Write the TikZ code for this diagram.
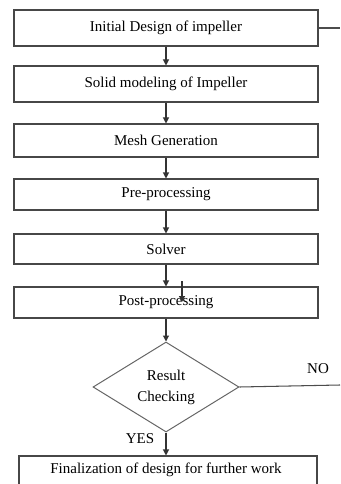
\documentclass[tikz,border=0pt]{standalone}
\usepackage{fontspec}
\setmainfont{Liberation Serif}
\usetikzlibrary{arrows.meta,shapes.geometric}
\begin{document}
\begin{tikzpicture}[x=1pt,y=-1pt,
  line width=1.05pt,
  ln/.style={draw=black!70},
  box/.style={draw=black!72,rectangle,minimum width=304pt,inner sep=0pt,font=\fontsize{15}{17}\selectfont},
  arr/.style={draw=black!80,-{Triangle[length=6pt,width=6pt]}},
  lbl/.style={font=\fontsize{15}{17}\selectfont,inner sep=0pt}]
\useasboundingbox (0,0) rectangle (340,484);
\clip (0,0) rectangle (340,484);
\node[box,minimum height=36pt] (b1) at (166,28) {Initial Design of impeller};
\node[box,minimum height=36pt] (b2) at (166,84) {Solid modeling of Impeller};
\node[box,minimum height=33pt] (b3) at (166,140.5) {Mesh Generation};
\node[box,minimum height=31pt] (b4) at (166,194.5) {Pre-processing};
\node[box,minimum height=30pt] (b5) at (166,249) {Solver};
\node[box,minimum height=31pt] (b6) at (166,302.5) {Post-processing};
\node[diamond,draw=black!60,line width=1pt,minimum width=146pt,minimum height=90pt,inner sep=0pt,aspect=1.62,align=center,font=\fontsize{15}{21}\selectfont] (d) at (166,387) {Result\\Checking};
\node[box,minimum width=298pt,minimum height=36pt] (b7) at (168,474) {};
\node[lbl] (t7) at (166,470) {Finalization of design for further work};
\node[lbl] (no) at (318,369) {NO};
\node[lbl] (yes) at (140,439) {YES};
\coordinate (r1) at (340,28);
\coordinate (r2) at (340,385);
\coordinate (s1) at (182,281);
\coordinate (s2) at (182,302);
\draw[ln] (b1.east) -- (r1);
\draw[ln] (d.east) -- (r2);
\draw[arr] (b1) -- (b2);
\draw[arr] (b2) -- (b3);
\draw[arr] (b3) -- (b4);
\draw[arr] (b4) -- (b5);
\draw[arr] (b5) -- (b6);
\draw[arr] (b6) -- (d);
\draw[arr] (d.south) -- (d.south |- b7.north);
\draw[arr] (s1) -- (s2);
\end{tikzpicture}
\end{document}
